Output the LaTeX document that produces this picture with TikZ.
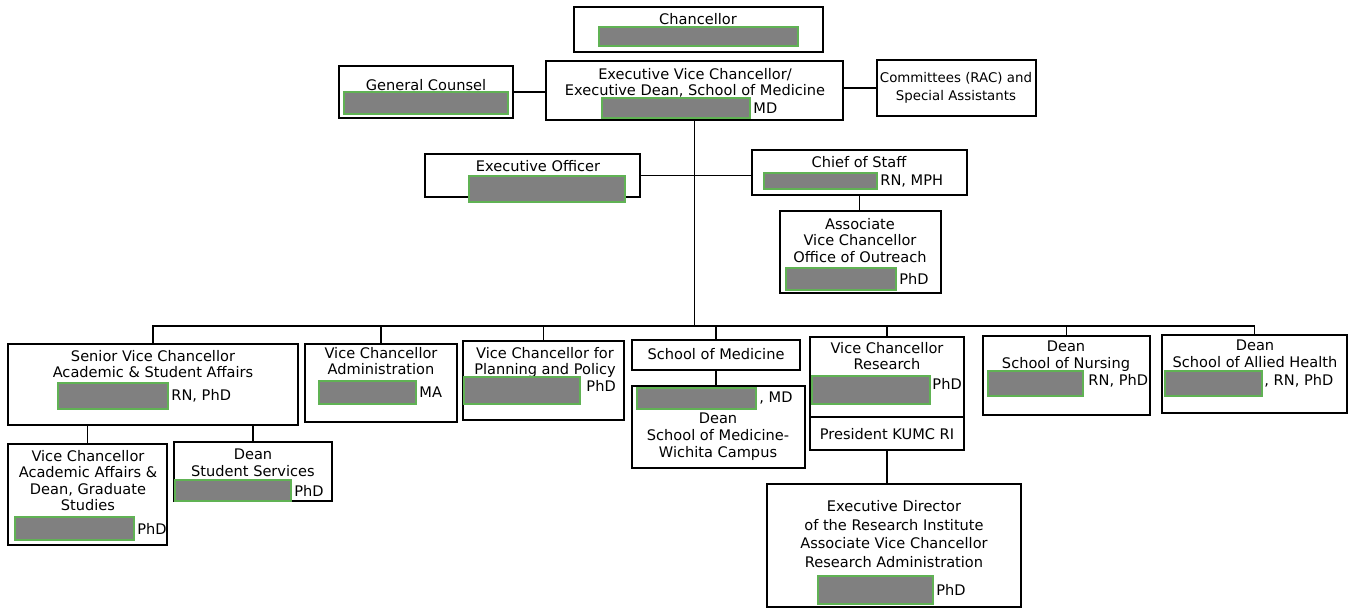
\documentclass[tikz,border=0pt]{standalone}
\usepackage{fontspec}
\setmainfont{DejaVu Sans}
\usetikzlibrary{fit}
\definecolor{redgray}{RGB}{128,128,128}
\definecolor{redgreen}{RGB}{96,178,84}
\tikzset{
  box/.style={draw, line width=0.85pt, inner sep=0pt},
  redact/.style={draw=redgreen, fill=redgray, line width=1.1pt, inner sep=0pt},
  lbl/.style={font=\fontsize{8.3}{9.4}\selectfont, align=center, inner sep=0pt, anchor=north},
  deg/.style={font=\fontsize{8.3}{9.4}\selectfont, inner sep=1.2pt, anchor=west},
  wire/.style={line width=0.85pt}
}
\begin{document}
\begin{tikzpicture}[x=0.02cm,y=-0.02cm]
\useasboundingbox (0,0) rectangle (1352,608);

\node [box, fit={(574,7) (823,52)}] (chanc) {};
\node [lbl] (chancT) at (698,13) {Chancellor};
\node [redact, fit={(599,27) (798,46)}] (chancN) {};

\node [box, fit={(339,66) (513,118)}] (gc) {};
\node [lbl] (gcT) at (426,79) {General Counsel};
\node [redact, fit={(344,92) (508,114)}] (gcN) {};

\node [box, fit={(546,61) (843,120)}] (evc) {};
\node [lbl] (evcT) at (695,68) {Executive Vice Chancellor/\\Executive Dean, School of Medicine};
\node [redact, fit={(602,98) (750,118)}] (evcN) {};
\node [deg] (evcD) at (evcN.east) {MD};

\node [box, fit={(877,60) (1036,116)}] (com) {};
\node [lbl, font=\fontsize{7.6}{10.3}\selectfont] (comT) at (956,72) {Committees (RAC) and\\Special Assistants};

\node [box, fit={(425,154) (640,197)}] (eo) {};
\node [lbl] (eoT) at (538,160) {Executive Officer};
\node [redact, fit={(469,176) (625,202)}] (eoN) {};

\node [box, fit={(752,150) (967,195)}] (cos) {};
\node [lbl] (cosT) at (859,156) {Chief of Staff};
\node [redact, fit={(764,173) (877,189)}] (cosN) {};
\node [deg] (cosD) at (cosN.east) {RN, MPH};

\node [box, fit={(780,211) (941,293)}] (avc) {};
\node [lbl] (avcT) at (860,218) {Associate\\Vice Chancellor\\Office of Outreach};
\node [redact, fit={(786,268) (896,290)}] (avcN) {};
\node [deg] (avcD) at (avcN.east) {PhD};

\node [box, fit={(8,344) (298,425)}] (svc) {};
\node [lbl] (svcT) at (153,350) {Senior Vice Chancellor\\Academic \& Student Affairs};
\node [redact, fit={(58,383) (168,409)}] (svcN) {};
\node [deg] (svcD) at (svcN.east) {RN, PhD};

\node [box, fit={(305,344) (457,422)}] (vcadm) {};
\node [lbl] (vcadmT) at (381,347) {Vice Chancellor\\Administration};
\node [redact, fit={(319,381) (416,404)}] (vcadmN) {};
\node [deg] (vcadmD) at (vcadmN.east) {MA};

\node [box, fit={(463,341) (624,420)}] (vcpp) {};
\node [lbl] (vcppT) at (545,347) {Vice Chancellor for\\Planning and Policy};
\node [redact, fit={(464,377) (580,404)}] (vcppN) {};
\node [deg] (vcppD) at (584,386) {PhD};

\node [box, fit={(632,340) (800,370)}] (som) {};
\node [lbl] (somT) at (716,348) {School of Medicine};

\node [box, fit={(632,386) (805,468)}] (wich) {};
\node [redact, fit={(637,388) (756,409)}] (wichN) {};
\node [deg] (wichD) at (wichN.east) {, MD};
\node [lbl] (wichT) at (718,413) {Dean\\School of Medicine-\\Wichita Campus};

\node [box, fit={(810,337) (964,417)}] (vcres) {};
\node [lbl] (vcresT) at (887,342) {Vice Chancellor\\Research};
\node [redact, fit={(812,376) (930,404)}] (vcresN) {};
\node [deg] (vcresD) at (930,384) {PhD};
\node [box, fit={(810,417) (964,450)}] (kumc) {};
\node [lbl] (kumcT) at (887,428) {President KUMC RI};

\node [box, fit={(983,336) (1150,415)}] (dnur) {};
\node [lbl] (dnurT) at (1066,341) {Dean\\School of Nursing};
\node [redact, fit={(988,371) (1083,396)}] (dnurN) {};
\node [deg] (dnurD) at (1086,381) {RN, PhD};

\node [box, fit={(1162,335) (1347,413)}] (dah) {};
\node [lbl] (dahT) at (1255,340) {Dean\\School of Allied Health};
\node [redact, fit={(1165,371) (1262,396)}] (dahN) {};
\node [deg] (dahD) at (1262,381) {, RN, PhD};

\node [box, fit={(8,444) (167,545)}] (vcaa) {};
\node [lbl] (vcaaT) at (88,450) {Vice Chancellor\\Academic Affairs \&\\Dean, Graduate\\Studies};
\node [redact, fit={(15,517) (134,540)}] (vcaaN) {};
\node [deg] (vcaaD) at (vcaaN.east) {PhD};

\node [box, fit={(174,442) (332,501)}] (dss) {};
\node [lbl] (dssT) at (253,449) {Dean\\Student Services};
\node [redact, fit={(175,480) (291,501)}] (dssN) {};
\node [deg] (dssD) at (dssN.east) {PhD};

\node [box, fit={(767,484) (1021,607)}] (ed) {};
\node [lbl, font=\fontsize{8.3}{10.6}\selectfont] (edT) at (894,500) {Executive Director\\of the Research Institute\\Associate Vice Chancellor\\Research Administration};
\node [redact, fit={(818,576) (933,604)}] (edN) {};
\node [deg] (edD) at (edN.east) {PhD};

\coordinate (bus) at (evc.south |- 0,326);
\draw [wire] (gc.east) -- (gc.east -| evc.west);
\draw [wire] (evc.east |- com.west) -- (com.west);
\draw [wire] (evc.south) -- (bus);
\draw [wire] (eo.east) -- (eo.east -| cos.west);
\draw [wire] (cos.south) -- (cos.south |- avc.north);
\draw [wire] (svc.north) |- (bus) -| (dah.north);
\foreach \n in {vcadm,vcpp,som,vcres,dnur}
  \draw [wire] (\n.north) -- (\n.north |- bus);
\draw [wire] (svc.south -| vcaa.north) -- (vcaa.north);
\draw [wire] (svc.south -| dss.north) -- (dss.north);
\draw [wire] (som.south) -- (som.south |- wich.north);
\draw [wire] (kumc.south) -- (kumc.south |- ed.north);
\end{tikzpicture}
\end{document}
